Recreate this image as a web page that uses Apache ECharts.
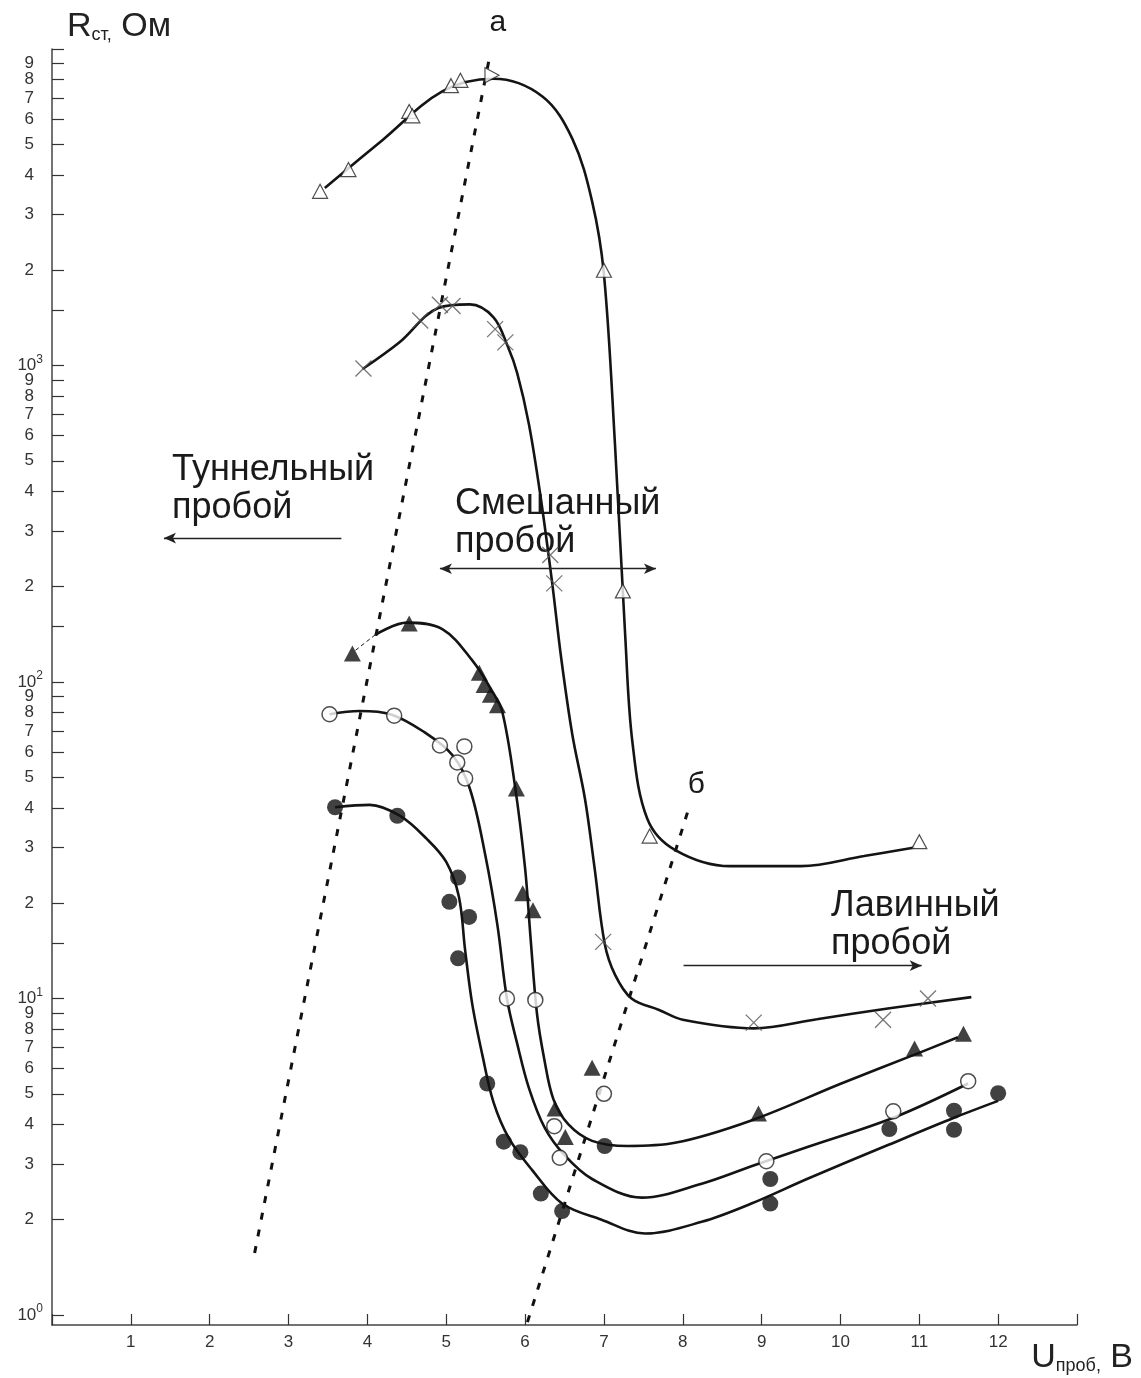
<!DOCTYPE html>
<html><head><meta charset="utf-8">
<script src="https://cdn.jsdelivr.net/npm/echarts@6/dist/echarts.min.js"></script>
<style>html,body{margin:0;padding:0;background:#fff}#c{width:1141px;height:1378px}</style>
</head><body><div id="c"></div>
<script>
const FONT = '"Liberation Sans", Arial, Helvetica, sans-serif';

// ---- axes ----
const xMin = 0, xMax = 13;
const xLabelValues = [1,2,3,4,5,6,7,8,9,10,11,12];
const yMin = 0.93, yMax = 10000;
const yTickValues = [1,2,3,4,5,6,7,8,9,10,15,20,30,40,50,60,70,80,90,100,150,200,300,400,500,600,700,800,900,1000,1500,2000,3000,4000,5000,6000,7000,8000,9000,10000];
// label values (order chosen so that the first/last pair are well separated)
const yLabelValues = [1000,2000,3000,4000,5000,6000,7000,8000,9000,1,2,3,4,5,6,7,8,9,10,20,30,40,50,60,70,80,90,100,200,300,600,700,800,900,400,500];

// ---- series 1: open triangles ----
const triOpenPts = [[3.40,3550],[3.76,4160],[4.53,6350],[4.57,6150],[5.06,7660],[5.18,7960],[7.0,2000],[7.24,194],[7.58,32.6],[11.0,31.3]];
const triOpenSide = [[5.58,8260]];
const triOpenCurve = [[3.46,3640],[4.19,5150],[4.95,7350],[5.6,8050],[6.22,7080],[6.6,5200],[6.85,3300],[7.0,1945],[7.14,565],[7.27,140],[7.36,65],[7.55,37],[7.9,29.5],[8.6,26.2],[9.5,26.2],[10.3,28.2],[10.94,30]];

// ---- series 2: crosses ----
const crossPts = [[3.95,979],[4.67,1387],[4.92,1555],[5.08,1542],[5.62,1303],[5.75,1183],[6.32,252],[6.37,205],[6.99,15.1],[8.90,8.39],[10.54,8.57],[11.11,10]];
const crossCurve = [[3.94,975],[4.4,1180],[4.9,1520],[5.3,1560],[5.6,1420],[5.78,1150],[5.9,946],[6.05,650],[6.2,380],[6.34,209],[6.46,118],[6.6,68],[6.76,42.7],[6.88,26],[7.01,14.9],[7.14,11.9],[7.35,10],[7.7,9.2],[8.0,8.57],[8.9,8.05],[9.7,8.6],[10.6,9.3],[11.66,10.1]];

// ---- series 3: filled triangles ----
const triFillPts = [[3.81,123],[4.53,153],[5.42,107],[5.48,97.9],[5.56,91.2],[5.65,84.5],[5.89,46.1],[5.97,21.5],[6.10,19.0],[6.38,4.49],[6.51,3.65],[6.85,6.04],[8.96,4.33],[10.94,6.95],[11.56,7.74]];
const triFillLink = [[3.85,126],[4.10,141]];
const triFillCurve = [[4.10,141],[4.5,154],[4.95,147],[5.33,117],[5.58,93.8],[5.71,80.7],[5.87,47.3],[6.0,25.8],[6.07,15.5],[6.15,9.0],[6.24,6.5],[6.36,4.8],[6.55,4.0],[6.85,3.55],[7.3,3.42],[7.9,3.5],[8.87,4.12],[10.01,5.39],[10.94,6.65],[11.49,7.54]];

// ---- series 4: open circles ----
const circOpenPts = [[3.52,79.1],[4.34,78.3],[4.92,63.0],[5.23,62.6],[5.14,55.7],[5.24,49.6],[5.77,10],[6.13,9.9],[7.0,5.0],[6.37,3.95],[6.44,3.14],[9.06,3.06],[10.67,4.40],[11.62,5.48]];
const circOpenCurve = [[3.52,79.1],[3.9,81],[4.3,79],[4.7,70],[5.08,58.7],[5.3,46],[5.5,28],[5.65,17],[5.77,10],[5.9,7.2],[6.05,5.2],[6.25,3.9],[6.5,3.2],[6.85,2.69],[7.48,2.35],[8.24,2.6],[8.87,2.95],[9.59,3.4],[10.67,4.2],[11.62,5.39]];

// ---- series 5: filled circles ----
const circFillPts = [[3.59,40.2],[4.38,37.8],[5.15,24.1],[5.04,20.2],[5.29,18.1],[5.15,13.4],[5.52,5.39],[5.73,3.53],[5.94,3.27],[6.20,2.42],[6.47,2.13],[7.01,3.42],[9.11,2.69],[9.11,2.25],[10.62,3.87],[11.44,4.42],[11.44,3.85],[12.0,5.02]];
const circFillCurve = [[3.59,40.2],[4.03,40.9],[4.41,37.8],[4.75,32],[5.0,27],[5.16,21],[5.24,14.2],[5.33,9.6],[5.46,6.6],[5.6,4.7],[5.8,3.6],[6.09,2.87],[6.47,2.25],[6.97,2.0],[7.52,1.81],[8.24,1.97],[8.87,2.25],[9.59,2.7],[10.61,3.45],[11.44,4.2],[12.0,4.75]];

// ---- guide lines and region arrows ----
const guideA = [[2.57,1.57],[5.56,9720]];
const guideB = [[6.03,0.95],[8.09,40.9]];
const tunnelArrow = [[3.67,285],[1.42,285]];
const mixedArrow = [[4.92,228],[7.66,228]];
const avalArrow = [[8.01,12.7],[11.03,12.7]];

function fmtY(v) {
  const e = Math.round(Math.log10(v));
  if (Math.abs(v - Math.pow(10, e)) < 1e-6 * v) return '{b|10}{p|' + e + '}';
  const m = Math.round(v / Math.pow(10, Math.floor(Math.log10(v) + 1e-9)));
  return '{d|' + m + '}';
}

const INK = '#141414';
const curveLine = (data) => ({
  type: 'line', data: data, showSymbol: false, symbol: 'none', smooth: 0.35,
  lineStyle: { color: INK, width: 2.6 }, z: 2, silent: true
});
const marks = (data, symbol, size, itemStyle, extra) => Object.assign({
  type: 'scatter', data: data, symbol: symbol, symbolSize: size, itemStyle: itemStyle, z: 4, silent: true
}, extra || {});
const guide = (data, label, offset) => ({
  type: 'line', data: data, showSymbol: false, symbol: 'none', z: 1, silent: true,
  lineStyle: { color: '#111', width: 3, type: [7, 10], cap: 'butt' },
  endLabel: { show: true, formatter: label, fontSize: 30, fontFamily: FONT, color: '#1a1a1a', offset: offset }
});
const arrowPair = (pts, s0, s1) => [
  { coord: pts[0], symbol: s0 }, { coord: pts[1], symbol: s1 }
];

const textStyle = { fontSize: 36, fontFamily: FONT, lineHeight: 38, fill: '#1a1a1a' };

const option = {
  animation: false,
  backgroundColor: '#ffffff',
  textStyle: { fontFamily: FONT },
  grid: { left: 52, right: 64, top: 49, bottom: 53, containLabel: false, outerBoundsMode: 'none' },
  xAxis: {
    type: 'value', min: xMin, max: xMax, interval: 1,
    axisLine: { show: true, onZero: false, lineStyle: { color: '#444', width: 1.5 } },
    axisTick: { show: true, inside: true, length: 11, lineStyle: { color: '#333', width: 1.2 } },
    axisLabel: { customValues: xLabelValues, formatter: (v) => String(v), color: '#333', fontSize: 17, fontFamily: FONT, margin: 9 },
    splitLine: { show: false },
    name: '{a|U}{b|проб,}{a| В}', nameLocation: 'end', nameGap: 56,
    nameTextStyle: {
      align: 'right', verticalAlign: 'top', padding: [16, 0, 0, 0],
      rich: { a: { fontSize: 34, fontFamily: FONT, color: '#222' }, b: { fontSize: 18, fontFamily: FONT, color: '#222', verticalAlign: 'bottom' } }
    }
  },
  yAxis: {
    type: 'log', logBase: 10, min: yMin, max: yMax,
    axisLine: { show: true, onZero: false, lineStyle: { color: '#444', width: 1.5 } },
    axisTick: { show: true, inside: true, length: 12, customValues: yTickValues, lineStyle: { color: '#333', width: 1.2 } },
    axisLabel: {
      customValues: yLabelValues, formatter: fmtY, margin: 9,
      showMaxLabel: true, showMinLabel: true, hideOverlap: false,
      rich: {
        d: { fontSize: 17, lineHeight: 17, color: '#333', fontFamily: FONT, padding: [0, 9, 0, 0] },
        b: { fontSize: 17, lineHeight: 24, color: '#333', fontFamily: FONT },
        p: { fontSize: 12, lineHeight: 12, verticalAlign: 'top', color: '#333', fontFamily: FONT }
      }
    },
    splitLine: { show: false }, minorTick: { show: false },
    name: '{a|R}{b|ст,}{a| Ом}', nameLocation: 'end', nameGap: 5,
    nameTextStyle: {
      align: 'left', verticalAlign: 'bottom', padding: [0, 0, 0, 15],
      rich: { a: { fontSize: 34, fontFamily: FONT, color: '#222' }, b: { fontSize: 18, fontFamily: FONT, color: '#222', verticalAlign: 'bottom' } }
    }
  },
  graphic: [
    { type: 'text', left: 172, top: 451, silent: true, style: Object.assign({ text: 'Туннельный\nпробой' }, textStyle) },
    { type: 'text', left: 455, top: 485, silent: true, style: Object.assign({ text: 'Смешанный\nпробой' }, textStyle) },
    { type: 'text', left: 831, top: 887, silent: true, style: Object.assign({ text: 'Лавинный\nпробой' }, textStyle) }
  ],
  series: [
    guide(guideA, 'а', [-9, -30]),
    guide(guideB, 'б', [-10, -20]),
    {
      type: 'line', data: [], silent: true,
      markLine: {
        silent: true, symbolSize: [8, 12], animation: false,
        lineStyle: { type: 'solid', color: '#222', width: 1.3 },
        label: { show: false },
        data: [
          arrowPair(tunnelArrow, 'none', 'arrow'),
          arrowPair(mixedArrow, 'arrow', 'arrow'),
          arrowPair(avalArrow, 'none', 'arrow')
        ]
      }
    },
    curveLine(triOpenCurve),
    curveLine(crossCurve),
    curveLine(triFillCurve),
    Object.assign(curveLine(triFillLink), { lineStyle: { color: INK, width: 1, type: [4, 3] }, smooth: false }),
    curveLine(circOpenCurve),
    curveLine(circFillCurve),
    marks(triOpenPts, 'triangle', [15, 14], { color: '#fff', borderColor: '#222', borderWidth: 1.2 }),
    marks(triOpenSide, 'triangle', [15, 14], { color: '#fff', borderColor: '#222', borderWidth: 1.2 }, { symbolRotate: -90 }),
    marks(crossPts, 'path://M0 0 L10 10 M10 0 L0 10', 16, { color: 'none', borderColor: '#555', borderWidth: 1.3 }),
    marks(triFillPts, 'triangle', [17, 16], { color: '#111' }),
    marks(circOpenPts, 'circle', 15, { color: '#fff', borderColor: '#222', borderWidth: 1.5 }),
    marks(circFillPts, 'circle', 16, { color: '#111' })
  ]
};

const chart = echarts.init(document.getElementById('c'), null, { renderer: 'canvas' });
chart.setOption(option);
</script>
</body></html>
